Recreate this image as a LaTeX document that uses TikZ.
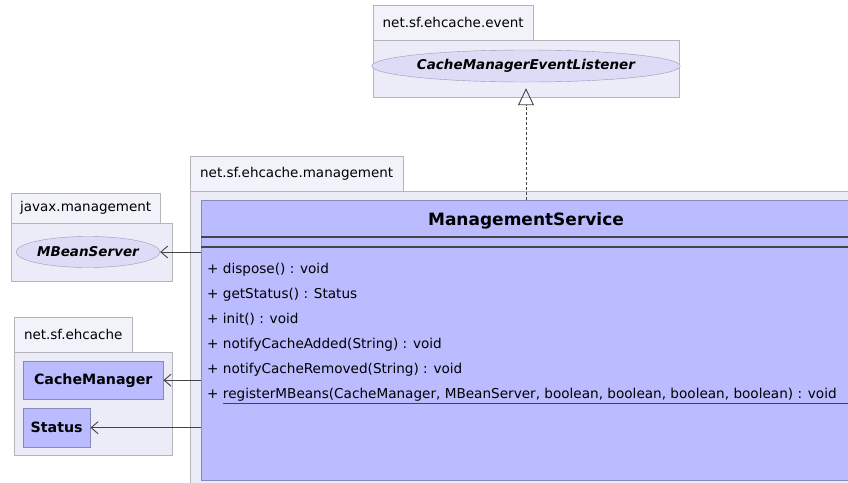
\documentclass[tikz,border=0pt]{standalone}
\usepackage{fontspec}
\setmainfont{DejaVu Sans}
\usetikzlibrary{shapes.geometric,arrows.meta}

\definecolor{pkgline}{HTML}{B4B4BC}
\definecolor{tabfill}{HTML}{F2F2FB}
\definecolor{pkgfill}{HTML}{ECECF8}
\definecolor{clsfill}{HTML}{BBBBFF}
\definecolor{clsline}{HTML}{8888B8}
\definecolor{ellfill}{HTML}{DCDCF6}
\definecolor{ellline}{HTML}{9898B8}
\definecolor{arrline}{HTML}{444444}

\newcommand{\pkgfont}{\fontsize{13.5}{15}\selectfont}
\newcommand{\methfont}{\fontsize{13.6}{15}\selectfont}
\newcommand{\namefont}{\fontsize{14.2}{16}\selectfont\bfseries}

\begin{document}
\begin{tikzpicture}[x=1pt,y=-1pt,
  pkgtab/.style={draw=pkgline, fill=tabfill, inner sep=0pt, anchor=north west, font=\pkgfont},
  pkgbody/.style={draw=pkgline, fill=pkgfill, inner sep=0pt, anchor=north west},
  iface/.style={ellipse, draw=ellline, fill=ellfill, inner sep=0pt, font=\fontsize{13.5}{16}\selectfont\bfseries\itshape},
  clsbox/.style={draw=clsline, fill=clsfill, inner sep=0pt, anchor=north west, font=\namefont},
  method/.style={anchor=base west, inner sep=0pt, font=\methfont},
  dep/.style={draw=arrline, line width=0.9pt, -{Straight Barb[length=7pt,width=12pt,line width=0.9pt]}},
  realize/.style={draw=arrline, line width=1pt, dash pattern=on 3pt off 2pt,
    -{Triangle[open,length=17pt,width=16pt,line width=0.9pt]}}]
   \useasboundingbox[fill=white] (0,0) rectangle (848,482);
   \clip (0,0) rectangle (848,482);
   % net.sf.ehcache.event
   \node[pkgtab, minimum width=160, minimum height=35] (evtab) at (373,5) {net.sf.ehcache.event};
   \node[pkgbody, minimum width=306, minimum height=57] (evpkg) at (373,40) {};
   \node[iface, minimum width=286, minimum height=32] (cmel) at (526,66) {CacheManagerEventListener};
   % javax.management
   \node[pkgtab, minimum width=149, minimum height=30] (jxtab) at (11,193) {javax.management};
   \node[pkgbody, minimum width=161, minimum height=58] (jxpkg) at (11,223) {};
   \node[iface, minimum width=133, minimum height=31] (mbs) at (88,252) {MBeanServer};
   % net.sf.ehcache
   \node[pkgtab, minimum width=118, minimum height=35] (ehtab) at (14,317) {net.sf.ehcache};
   \node[pkgbody, minimum width=158, minimum height=103] (ehpkg) at (14,352) {};
   \node[clsbox, minimum width=140, minimum height=38] (cm) at (23,361) {CacheManager};
   \node[clsbox, minimum width=67, minimum height=39] (st) at (23,408) {Status};
   % net.sf.ehcache.management
   \node[pkgtab, minimum width=213, minimum height=35] (mgtab) at (190,156) {net.sf.ehcache.management};
   \node[pkgbody, minimum width=700, minimum height=330] (mgpkg) at (190,191) {};
   \node[clsbox, minimum width=700, minimum height=280] (ms) at (201,200) {};
   \node[font=\fontsize{17}{19}\selectfont\bfseries] (mstitle) at (526,221) {ManagementService};
   \draw[arrline, line width=1.2pt] (201,237) -- (901,237);
   \draw[arrline, line width=1.2pt] (201,247) -- (901,247);
   \node[method] (m1) at (207,273) {+ dispose() : void};
   \node[method] (m2) at (207,298) {+ getStatus() : Status};
   \node[method] (m3) at (207,323) {+ init() : void};
   \node[method] (m4) at (207,348) {+ notifyCacheAdded(String) : void};
   \node[method] (m5) at (207,373) {+ notifyCacheRemoved(String) : void};
   \node[method] (m6p) at (207,398) {+};
   \node[method] (m6) at ([xshift=4pt]m6p.base east) {registerMBeans(CacheManager, MBeanServer, boolean, boolean, boolean, boolean) : void};
   \draw[arrline, line width=1pt] ([yshift=-5pt]m6.base west) -- (901,403);
   % dependencies
   \draw[dep] (ms.west |- mbs.east) -- (mbs.east);
   \draw[dep] (ms.west |- cm.east) -- (cm.east);
   \draw[dep] (ms.west |- st.east) -- (st.east);
   \draw[realize, shorten >=6pt] (cmel.south |- ms.north) -- (cmel.south);
\end{tikzpicture}
\end{document}
